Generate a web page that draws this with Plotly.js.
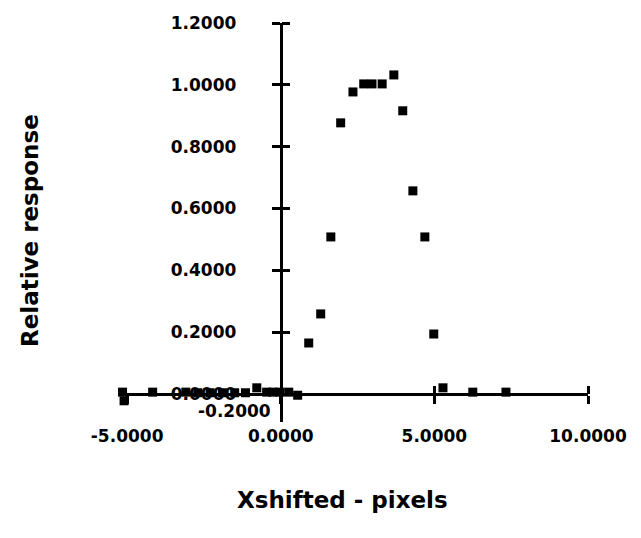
<!DOCTYPE html>
<html>
<head>
<meta charset="utf-8">
<script src="https://cdn.plot.ly/plotly-3.0.1.min.js"></script>
<style>html,body{margin:0;padding:0;background:#fff;}#chart{width:641px;height:538px;}</style>
</head>
<body>
<div id="chart"></div>
<script>
// Data
const xShifted = [-5.15, -5.10, -4.17, -3.09, -2.70, -2.30, -1.90, -1.50, -1.15, -0.78, -0.46, -0.26, -0.03, 0.26, 0.55,
                  0.91, 1.30, 1.63, 1.95, 2.35, 2.70, 2.97, 3.30, 3.68, 3.97, 4.30, 4.69, 4.98, 5.28, 6.25, 7.33];
const relResponse = [0.006, -0.022, 0.006, 0.006, 0.004, 0.004, 0.004, 0.004, 0.004, 0.020, 0.006, 0.006, 0.006, 0.006, -0.004,
                  0.165, 0.259, 0.508, 0.877, 0.977, 1.003, 1.003, 1.003, 1.032, 0.916, 0.657, 0.508, 0.194, 0.020, 0.006, 0.006];
const xTickVals = [-5, 0, 5, 10];
const xTickText = ["-5.0000", "0.0000", "5.0000", "10.0000"];
const yTickVals = [0, 0.2, 0.4, 0.6, 0.8, 1.0, 1.2];
const yTickText = ["0.0000", "0.2000", "0.4000", "0.6000", "0.8000", "1.0000", "1.2000"];
const yLowLabel = "-0.2000";

const xRange = [-5.2, 10];
const yRange = [-0.0906, 1.2];
const yAxisPos = (0 - xRange[0]) / (xRange[1] - xRange[0]);
const xAxisPos = (0 - yRange[0]) / (yRange[1] - yRange[0]);

const tickFont = {family: "DejaVu Sans", size: 17, color: "#000", weight: "bold"};
const titleFont = {family: "DejaVu Sans", size: 23, color: "#000", weight: "bold"};

const traces = [
  {x: xShifted, y: relResponse, type: "scatter", mode: "markers",
   marker: {symbol: "square", size: 9, color: "#000"}, cliponaxis: false, hoverinfo: "skip"},
  // carrier trace (draws nothing) so the overlay axes used for the crossing ticks exist
  {x: [0], y: [0], type: "scatter", mode: "none", xaxis: "x2", yaxis: "y2", hoverinfo: "skip"}
];

const axisCommon = {showgrid: false, zeroline: false, showline: true, linecolor: "#000", linewidth: 3,
                    tickcolor: "#000", tickwidth: 3, ticklen: 8, anchor: "free"};

const layout = {
  width: 641, height: 538,
  margin: {l: 121, r: 53, t: 23, b: 116},
  paper_bgcolor: "#fff", plot_bgcolor: "rgba(0,0,0,0)",
  showlegend: false,
  xaxis: Object.assign({}, axisCommon, {range: xRange, position: xAxisPos, ticks: "outside",
          tickvals: xTickVals, ticktext: xTickText, tickfont: tickFont, ticklabelstandoff: 18}),
  yaxis: Object.assign({}, axisCommon, {range: yRange, position: yAxisPos, ticks: "outside",
          tickvals: yTickVals, ticktext: yTickText, tickfont: tickFont, ticklabelstandoff: 32}),
  xaxis2: Object.assign({}, axisCommon, {range: xRange, position: xAxisPos, ticks: "outside", overlaying: "x",
          side: "top", tickvals: xTickVals.slice(2), showticklabels: false, showline: false}),
  yaxis2: Object.assign({}, axisCommon, {range: yRange, position: yAxisPos, ticks: "outside", overlaying: "y",
          side: "right", tickvals: yTickVals.slice(1), showticklabels: false, showline: false}),
  annotations: [
    {text: yLowLabel, xref: "x", yref: "y", x: -0.26, y: -0.056, xanchor: "right", yanchor: "middle",
     showarrow: false, font: tickFont},
    {text: "Relative response", xref: "paper", yref: "paper", x: -0.195, y: 0.481, textangle: -90,
     xanchor: "center", yanchor: "middle", showarrow: false, font: titleFont},
    {text: "Xshifted - pixels", xref: "paper", yref: "paper", x: 0.475, y: -0.195,
     xanchor: "center", yanchor: "middle", showarrow: false, font: titleFont}
  ]
};

Plotly.newPlot("chart", traces, layout, {staticPlot: true, displayModeBar: false});
</script>
</body>
</html>
